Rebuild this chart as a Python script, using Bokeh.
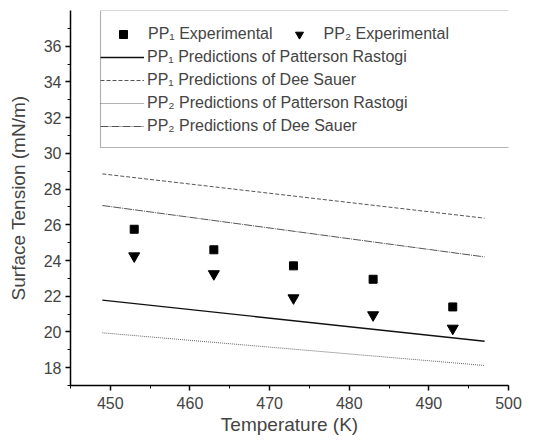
from bokeh.plotting import figure
from bokeh.models import Legend, LegendItem, Range1d, FixedTicker, SingleIntervalTicker, BoxAnnotation
from bokeh.embed import file_html
from bokeh.resources import INLINE

temps = [453, 463, 473, 483, 493]
pp1_exp = [25.75, 24.6, 23.7, 22.95, 21.4]
pp2_exp = [24.25, 23.25, 21.9, 20.95, 20.2]

line_t = [449, 497]
pp1_pr = [21.78, 19.48]
pp1_ds = [28.85, 26.37]
pp2_pr = [19.95, 18.12]
pp2_ds = [27.08, 24.2]

y_ticks = [18, 20, 22, 24, 26, 28, 30, 32, 34, 36]
y_minor = [17, 19, 21, 23, 25, 27, 29, 31, 33, 35, 37]

FONT = "Liberation Sans"

p = figure(width=536, height=440, output_backend="svg", toolbar_location=None,
           x_range=Range1d(445, 500), y_range=Range1d(17, 38.0),
           min_border_left=70, min_border_right=28, min_border_top=10, min_border_bottom=55)
p.outline_line_color = None
p.grid.visible = False
p.background_fill_color = "white"
p.border_fill_color = "white"

r_dsp1 = p.line(line_t, pp1_ds, line_color="#555555", line_width=1, line_dash="4 2")
r_dsp2 = p.line(line_t, pp2_ds, line_color="#555555", line_width=1, line_dash="8 1 1 1")
r_prp1 = p.line(line_t, pp1_pr, line_color="#111111", line_width=1.4)
r_prp2 = p.line(line_t, pp2_pr, line_color="#666666", line_width=1, line_dash="1 1")
r_sq = p.scatter(temps, pp1_exp, marker="square", size=8, fill_color="black", line_color="black")
r_tr = p.scatter(temps, pp2_exp, marker="inverted_triangle", size=11, fill_color="black", line_color="black")

for ax in (p.xaxis[0], p.yaxis[0]):
    ax.axis_line_width = 1.5
    ax.major_tick_line_width = 1.5
    ax.major_tick_out = 5
    ax.major_tick_in = 0
    ax.minor_tick_out = 3
    ax.minor_tick_in = 0
    ax.major_label_text_font = FONT
    ax.major_label_text_font_size = "16px"
    ax.axis_label_text_font = FONT
    ax.axis_label_text_font_size = "19px"
    ax.axis_label_text_font_style = "normal"
    ax.major_label_standoff = 4

p.xaxis.ticker = SingleIntervalTicker(interval=10, num_minor_ticks=2)
p.yaxis.ticker = FixedTicker(ticks=y_ticks, minor_ticks=y_minor)
p.xaxis.axis_label = "Temperature (K)"
p.yaxis.axis_label = "Surface Tension (mN/m)"
p.xaxis.major_label_standoff = 6
p.xaxis.axis_label_standoff = 2
p.yaxis.axis_label_standoff = 12

box = BoxAnnotation(left=100, right=519, top=10, bottom=147,
                    left_units="canvas", right_units="canvas", top_units="canvas", bottom_units="canvas",
                    fill_color="white", fill_alpha=1.0, line_color="black", line_width=1.2, level="overlay")
p.add_layout(box)

common = dict(border_line_color=None, background_fill_alpha=0, label_text_font=FONT,
              label_text_font_size="16px", glyph_width=44, glyph_height=20, label_height=20,
              label_standoff=3, padding=0, margin=0, spacing=3)

leg1 = Legend(items=[LegendItem(label="PP\u2081 Experimental", renderers=[r_sq]),
                     LegendItem(label="PP\u2082 Experimental", renderers=[r_tr])],
              orientation="horizontal", location=(31, 341), **common)
leg1.spacing = 4
leg2 = Legend(items=[LegendItem(label="PP\u2081 Predictions of Patterson Rastogi", renderers=[r_prp1]),
                     LegendItem(label="PP\u2081 Predictions of Dee Sauer", renderers=[r_dsp1]),
                     LegendItem(label="PP\u2082 Predictions of Patterson Rastogi", renderers=[r_prp2]),
                     LegendItem(label="PP\u2082 Predictions of Dee Sauer", renderers=[r_dsp2])],
              orientation="vertical", location=(30, 249), **common)
p.add_layout(leg1, "center")
p.add_layout(leg2, "center")

open("out.html", "w").write(file_html(p, INLINE))
